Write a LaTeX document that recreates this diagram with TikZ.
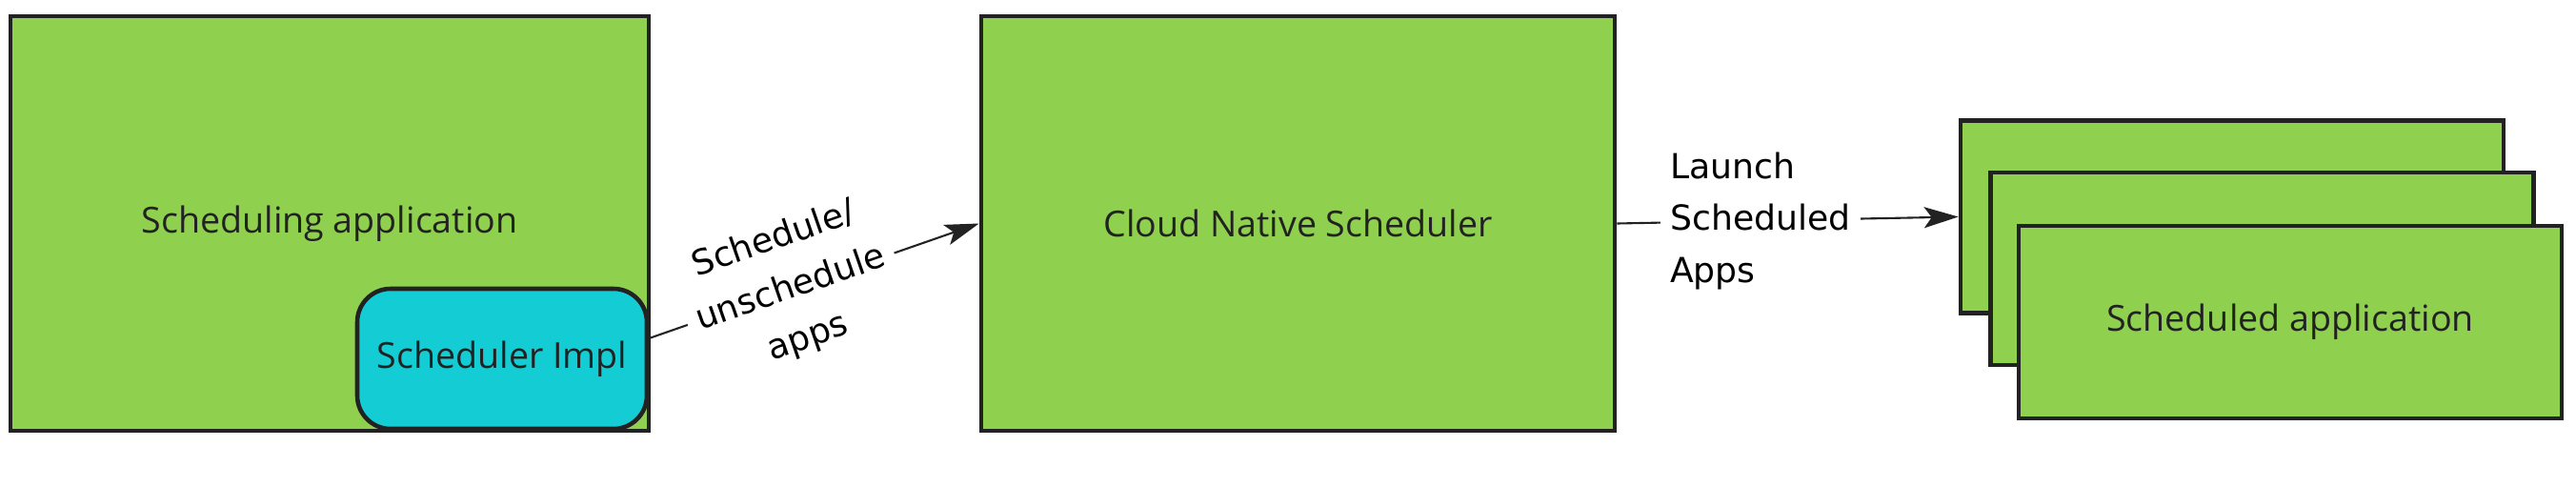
\documentclass[tikz,border=0pt]{standalone}
\usepackage{fontspec}
\setmainfont{Open Sans}
\newfontfamily\labelfont{DejaVu Sans}
\usetikzlibrary{arrows.meta}
\definecolor{appgreen}{HTML}{8FD14F}
\definecolor{implcyan}{HTML}{14CDD4}
\definecolor{edge}{HTML}{222222}

\begin{document}
\begin{tikzpicture}[
    box/.style={draw=edge, line width=1.3pt, fill=appgreen, inner sep=0pt, text=edge, font=\fontsize{10.7}{13}\selectfont},
    appbox/.style={box, minimum width=5.70cm, minimum height=2.02cm},
    flow/.style={draw=edge, line width=0.6pt, -{Stealth[length=3.6mm,width=2.2mm,inset=0.8mm]}},
    flowlabel/.style={fill=white, inner sep=3pt, text=black, font=\labelfont\fontsize{10.3}{15.5}\selectfont}
  ]
  \useasboundingbox (0,0) rectangle (27.04,5.10);

  %Scheduling application
  \node[box, minimum width=6.70cm, minimum height=4.35cm] (app) at (3.46,2.755) {Scheduling application};
  \node[box, fill=implcyan, rounded corners=0.35cm, minimum width=3.04cm, minimum height=1.47cm] (impl) at (5.27,1.335) {Scheduler Impl};

  %Scheduler
  \node[box, minimum width=6.65cm, minimum height=4.35cm] (sched) at (13.625,2.755) {Cloud Native Scheduler};

  %Scheduled apps
  \node[appbox] (back) at (23.43,2.825) {};
  \node[appbox] (middle) at (23.745,2.28) {};
  \node[appbox] (front) at (24.04,1.72) {Scheduled application};

  %Arrows
  \draw[flow] ([yshift=0.215cm]impl.east) -- (sched.west)
    node[flowlabel, sloped, pos=0.43, align=center] {Schedule/\\unschedule\\apps};
  \draw[flow] (sched.east) -- (back.west)
    node[flowlabel, pos=0.42, align=left] {Launch\\Scheduled\\Apps};

\end{tikzpicture}
\end{document}
